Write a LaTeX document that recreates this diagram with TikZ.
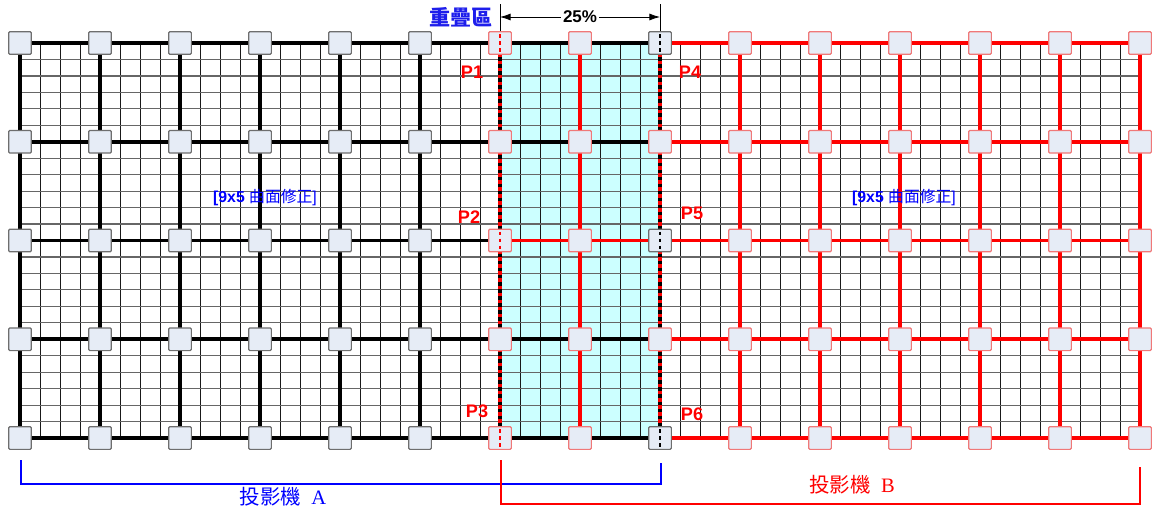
\documentclass[tikz,border=0pt]{standalone}
\usepackage{fontspec}
\setmainfont{Liberation Serif}
\setsansfont{Liberation Sans}
\newfontfamily\cjk{Noto Sans CJK TC}
\usepackage{tikz}
\usetikzlibrary{arrows.meta, positioning, calc}
\definecolor{ptfill}{RGB}{230, 236, 246}
\definecolor{ptgray}{RGB}{110, 110, 110}
\definecolor{ptpink}{RGB}{240, 120, 120}
\definecolor{ovcyan}{RGB}{204, 255, 255}
\definecolor{lblblue}{RGB}{30, 30, 235}

\begin{document}
\begin{tikzpicture}[
    x=0.03cm, y=-0.03cm,
    fine/.style={line width=0.8pt, black!90},
    fineh/.style={line width=1pt, black!60},
    gridA/.style={line width=3pt, black},
    gridB/.style={line width=3pt, red},
    seam/.style={line width=3pt, black, dash pattern=on 3pt off 3pt},
    ptA/.style={rectangle, rounded corners=1pt, draw=ptgray, line width=1pt,
                fill=ptfill, minimum size=0.68cm, inner sep=0pt},
    ptB/.style={ptA, draw=ptpink},
    pmark/.style={line width=2.4pt, dash pattern=on 3pt off 3pt,
                  shorten <=2.5pt, shorten >=2.5pt},
    plbl/.style={font=\fontsize{15.5}{18}\selectfont\sffamily\bfseries, text=red},
    warp/.style={font=\fontsize{13.5}{16}\selectfont, text=blue},
    proj/.style={font=\fontsize{17.5}{20}\selectfont}
]
\useasboundingbox (0,0) rectangle (1153,508);

\foreach \k in {1,...,15}
  \foreach \j in {1,...,5}
    \coordinate (c-\k-\j) at ({20+80*(\k-1)}, {43+98.75*(\j-1)});

\fill[ovcyan] (c-7-1) rectangle (c-9-5);

\foreach \i in {0,...,56}
  \draw[fine] ({20+20*\i},43) -- ({20+20*\i},438);
\foreach \j in {0,...,24}
  \draw[fineh] (20,{43+395/24*\j}) -- (1140,{43+395/24*\j});

\foreach \j in {1,2,4,5} {
  \draw[gridB] (c-9-\j) -- (c-15-\j);
  \draw[gridA] (c-1-\j) -- (c-9-\j);
}
\draw[gridA] (c-1-3) -- (c-7-3);
\draw[gridB] (c-7-3) -- (c-15-3);
\foreach \k in {1,...,6}
  \draw[gridA] (c-\k-1) -- (c-\k-5);
\foreach \k in {7,8,9,10,11,12,13,14,15}
  \draw[gridB] (c-\k-1) -- (c-\k-5);
\draw[seam] (c-7-1) -- (c-7-5);
\draw[seam] (c-9-1) -- (c-9-5);

\foreach \k in {1,...,6}
  \foreach \j in {1,...,5}
    \node[ptA] (a-\k-\j) at (c-\k-\j) {};
\foreach \j in {1,3,5}
  \node[ptA] (a-9-\j) at (c-9-\j) {};
\foreach \k in {7,8,10,11,12,13,14,15}
  \foreach \j in {1,...,5}
    \node[ptB] (b-\k-\j) at (c-\k-\j) {};
\foreach \j in {2,4}
  \node[ptB] (b-9-\j) at (c-9-\j) {};

\foreach \j in {1,3,5} {
  \draw[pmark, red]   (b-7-\j.north) -- (b-7-\j.south);
  \draw[pmark, black] (a-9-\j.north) -- (a-9-\j.south);
}

\node[plbl] (p1) at (472,72)  {P1};
\node[plbl] (p2) at (469,217) {P2};
\node[plbl] (p3) at (477,411) {P3};
\node[plbl] (p4) at (690,72)  {P4};
\node[plbl] (p5) at (692,213) {P5};
\node[plbl] (p6) at (692,414) {P6};

\node[warp] (warpA) at (265,197) {\sffamily\bfseries[9x5 {\cjk\mdseries 曲面修正}\mdseries]};
\node[warp] (warpB) at (904,197) {\sffamily\bfseries[9x5 {\cjk\mdseries 曲面修正}\mdseries]};

\coordinate (e1) at (500,4);
\coordinate (e2) at (660,4);
\coordinate (d1) at (500,17);
\coordinate (d2) at (660,17);
\draw[line width=0.7pt] (b-7-1.north) -- (e1);
\draw[line width=0.7pt] (a-9-1.north) -- (e2);
\draw[{Latex[length=9pt,width=6pt]}-{Latex[length=9pt,width=6pt]}, line width=0.7pt]
  (d1) -- node[fill=white, inner sep=2pt,
               font=\fontsize{14.5}{16}\selectfont\sffamily\bfseries] (ratio) {25\%} (d2);
\node[font=\fontsize{18}{20}\selectfont\cjk\bfseries, text=lblblue] (ovl) at (461,17) {重疊區};

\coordinate (qa1) at (21,460);
\coordinate (qa2) at (21,484);
\coordinate (qa3) at (661,484);
\coordinate (qa4) at (661,463);
\draw[blue, line width=1.3pt] (qa1) -- (qa2) -- (qa3) -- (qa4);
\node[proj, text=blue] (projA) at (283,497) {{\cjk 投影機}\ \ A};

\coordinate (qb1) at (501,460);
\coordinate (qb2) at (501,504);
\coordinate (qb3) at (1140,504);
\coordinate (qb4) at (1140,467);
\draw[red, line width=1.7pt] (qb1) -- (qb2) -- (qb3) -- (qb4);
\node[proj, text=red] (projB) at (852,485) {{\cjk 投影機}\ \ B};
\end{tikzpicture}
\end{document}
